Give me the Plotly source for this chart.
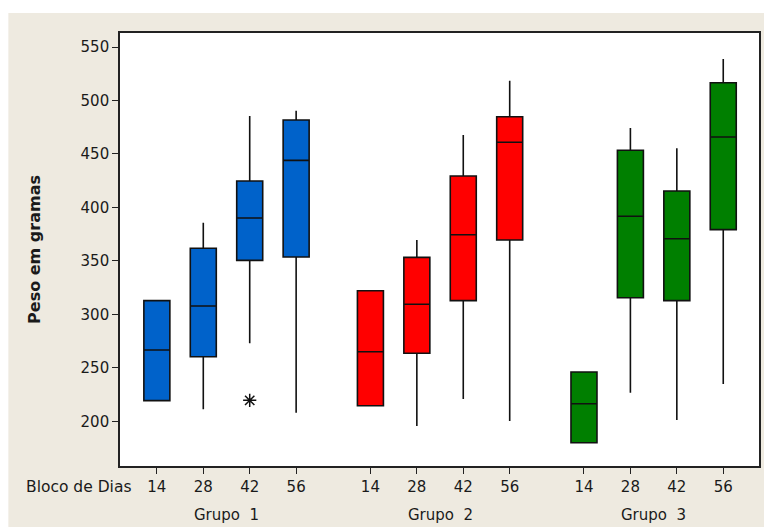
import plotly.graph_objects as go

# Data: weight (g) per group and day block, as box summary statistics
days = ["14", "28", "42", "56"]
groups = ["Grupo 1", "Grupo 2", "Grupo 3"]
colors = ["#0062CA", "#FF0000", "#007F00"]

lower = {
    "Grupo 1": [219.3, 211.2, 272.9, 208.0],
    "Grupo 2": [214.6, 195.6, 220.8, 200.3],
    "Grupo 3": [180.0, 226.7, 201.2, 234.9],
}
q1 = {
    "Grupo 1": [219.3, 260.4, 350.5, 353.6],
    "Grupo 2": [214.6, 263.6, 312.8, 369.5],
    "Grupo 3": [180.0, 315.6, 312.8, 379.2],
}
median = {
    "Grupo 1": [266.7, 307.8, 390.1, 444.0],
    "Grupo 2": [265.1, 309.4, 374.5, 460.9],
    "Grupo 3": [216.4, 391.7, 370.7, 465.8],
}
q3 = {
    "Grupo 1": [312.8, 361.8, 424.7, 481.7],
    "Grupo 2": [322.1, 353.3, 429.4, 484.8],
    "Grupo 3": [246.1, 453.4, 415.3, 516.6],
}
upper = {
    "Grupo 1": [312.8, 385.7, 485.5, 490.5],
    "Grupo 2": [322.1, 369.5, 467.7, 518.5],
    "Grupo 3": [246.1, 474.3, 455.3, 538.8],
}
# Outliers: (group, day, value)
outliers = [("Grupo 1", "42", 219.6)]

y_ticks = [200, 250, 300, 350, 400, 450, 500, 550]

# horizontal layout of the day blocks
GROUP_STEP = len(days) + 0.6


def xpos(g_idx, d_idx):
    return g_idx * GROUP_STEP + d_idx


fig = go.Figure()

for gi, g in enumerate(groups):
    fig.add_trace(go.Box(
        x=[xpos(gi, di) for di in range(len(days))],
        q1=q1[g], median=median[g], q3=q3[g],
        lowerfence=lower[g], upperfence=upper[g],
        width=0.56,
        whiskerwidth=0,
        fillcolor=colors[gi],
        line=dict(color="#111111", width=1.6),
        boxpoints=False,
        showlegend=False,
        name=g,
    ))

fig.add_trace(go.Scatter(
    x=[xpos(groups.index(g), days.index(d)) for g, d, v in outliers],
    y=[v for g, d, v in outliers],
    mode="markers",
    marker=dict(symbol="asterisk-open", size=11, color="#111111",
                line=dict(color="#111111", width=1.5)),
    showlegend=False,
))

tickvals = [xpos(gi, di) for gi in range(len(groups)) for di in range(len(days))]
ticktext = [d for gi in range(len(groups)) for d in days]

font_family = "DejaVu Sans"
text_color = "#1a1a1a"

# plot-area geometry in pixels, used to place margin decorations
W, H = 764, 527
ML, MR, MT, MB = 120, 3, 33, 61
pw, ph = W - ML - MR, H - MT - MB


def px_x(x):
    return (x - ML) / pw


def px_y(y):
    return (H - MB - y) / ph


annotations = [
    dict(text="Bloco de Dias", xref="paper", yref="paper",
         x=px_x(133), y=px_y(487), xanchor="right", yanchor="middle",
         showarrow=False, font=dict(family=font_family, size=15.5, color=text_color)),
]
for gi, g in enumerate(groups):
    annotations.append(dict(
        text=g.replace(" ", "  "), xref="x", yref="paper",
        x=xpos(gi, 1.5), y=px_y(515), xanchor="center", yanchor="middle",
        showarrow=False, font=dict(family=font_family, size=15, color=text_color)))

shapes = [
    # white strips around the framed panel
    dict(type="rect", xref="paper", yref="paper", layer="below",
         x0=px_x(-2), x1=px_x(766), y0=px_y(13), y1=px_y(-2),
         fillcolor="white", line=dict(width=0)),
    dict(type="rect", xref="paper", yref="paper", layer="below",
         x0=px_x(-2), x1=px_x(8), y0=px_y(529), y1=px_y(-2),
         fillcolor="white", line=dict(width=0)),
]

fig.update_layout(
    width=W, height=H,
    margin=dict(l=ML, r=MR, t=MT, b=MB, pad=0),
    paper_bgcolor="#EEEAE0",
    plot_bgcolor="white",
    annotations=annotations,
    shapes=shapes,
    xaxis=dict(
        range=[-0.794, 12.97],
        tickvals=tickvals, ticktext=ticktext,
        ticks="outside", ticklen=6, tickwidth=1.3, tickcolor="#222222",
        showgrid=False, zeroline=False,
        showline=True, linecolor="#222222", linewidth=1.6, mirror=True,
        tickfont=dict(family=font_family, size=15, color=text_color),
    ),
    yaxis=dict(
        range=[158.2, 563.1],
        tickvals=y_ticks,
        ticks="outside", ticklen=6, tickwidth=1.3, tickcolor="#222222",
        showgrid=False, zeroline=False,
        showline=True, linecolor="#222222", linewidth=1.6, mirror=True,
        tickfont=dict(family=font_family, size=15, color=text_color),
        title=dict(text="<b>Peso em gramas</b>", standoff=36,
                   font=dict(family=font_family, size=16, color=text_color)),
    ),
)

fig.write_html("out.html")
